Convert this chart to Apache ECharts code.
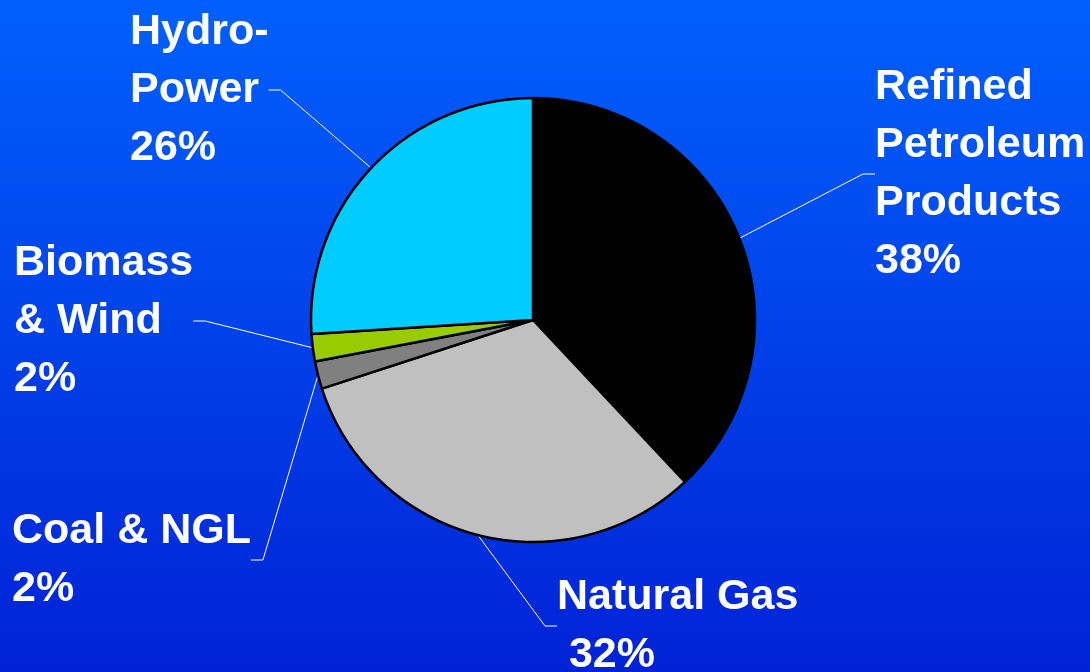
<!DOCTYPE html>
<html>
<head>
<meta charset="utf-8">
<script src="https://cdn.jsdelivr.net/npm/echarts@6/dist/echarts.min.js"></script>
<style>
  html, body { margin: 0; padding: 0; }
  #chart { width: 1090px; height: 672px; }
</style>
</head>
<body>
<div id="chart"></div>
<script>
// slices, clockwise from 12 o'clock
const sliceNames = ["Refined\nPetroleum\nProducts", "Natural Gas", "Coal & NGL", "Biomass\n& Wind", "Hydro-\nPower"];
const sliceValues = [38, 32, 2, 2, 26];
const percentPrefix = ["", " ", "", "", ""];
const sliceColors = ["#000000", "#c0c0c0", "#808080", "#99cc00", "#00ccff"];

// where each label block sits (left/top of text)
const labelPos = [
  { x: 875, y: 58, align: "left" },
  { x: 557, y: 568, align: "left" },
  { x: 12, y: 502, align: "left" },
  { x: 14, y: 234, align: "left" },
  { x: 130, y: 3, align: "left" },
];

const chart = echarts.init(document.getElementById("chart"));

chart.setOption({
  animation: false,
  backgroundColor: new echarts.graphic.LinearGradient(0, 0, 0, 1, [
    { offset: 0, color: "#0060fc" },
    { offset: 1, color: "#0022d6" },
  ]),
  series: [
    {
      type: "pie",
      center: [533, 320],
      radius: 222,
      startAngle: 90,
      clockwise: true,
      avoidLabelOverlap: false,
      itemStyle: {
        borderColor: "#000",
        borderWidth: 2.5,
      },
      label: {
        show: true,
        color: "#fff",
        fontFamily: "Liberation Sans, Arial, sans-serif",
        fontWeight: "bold",
        fontSize: 43,
        lineHeight: 58,
        formatter: (p) => p.name + "\n" + percentPrefix[p.dataIndex] + p.value + "%",
      },
      labelLine: {
        show: true,
        length: 20,
        length2: 12,
        smooth: false,
        lineStyle: { color: "#fff", width: 1 },
      },
      labelLayout: (params) => {
        const pos = labelPos[params.dataIndex];
        return {
          x: pos.x,
          y: pos.y,
          align: pos.align,
          verticalAlign: "top",
          hideOverlap: false,
        };
      },
      emphasis: { disabled: true },
      data: sliceNames.map((name, i) => ({
        name: name,
        value: sliceValues[i],
        itemStyle: { color: sliceColors[i] },
      })),
    },
  ],
});
</script>
</body>
</html>
